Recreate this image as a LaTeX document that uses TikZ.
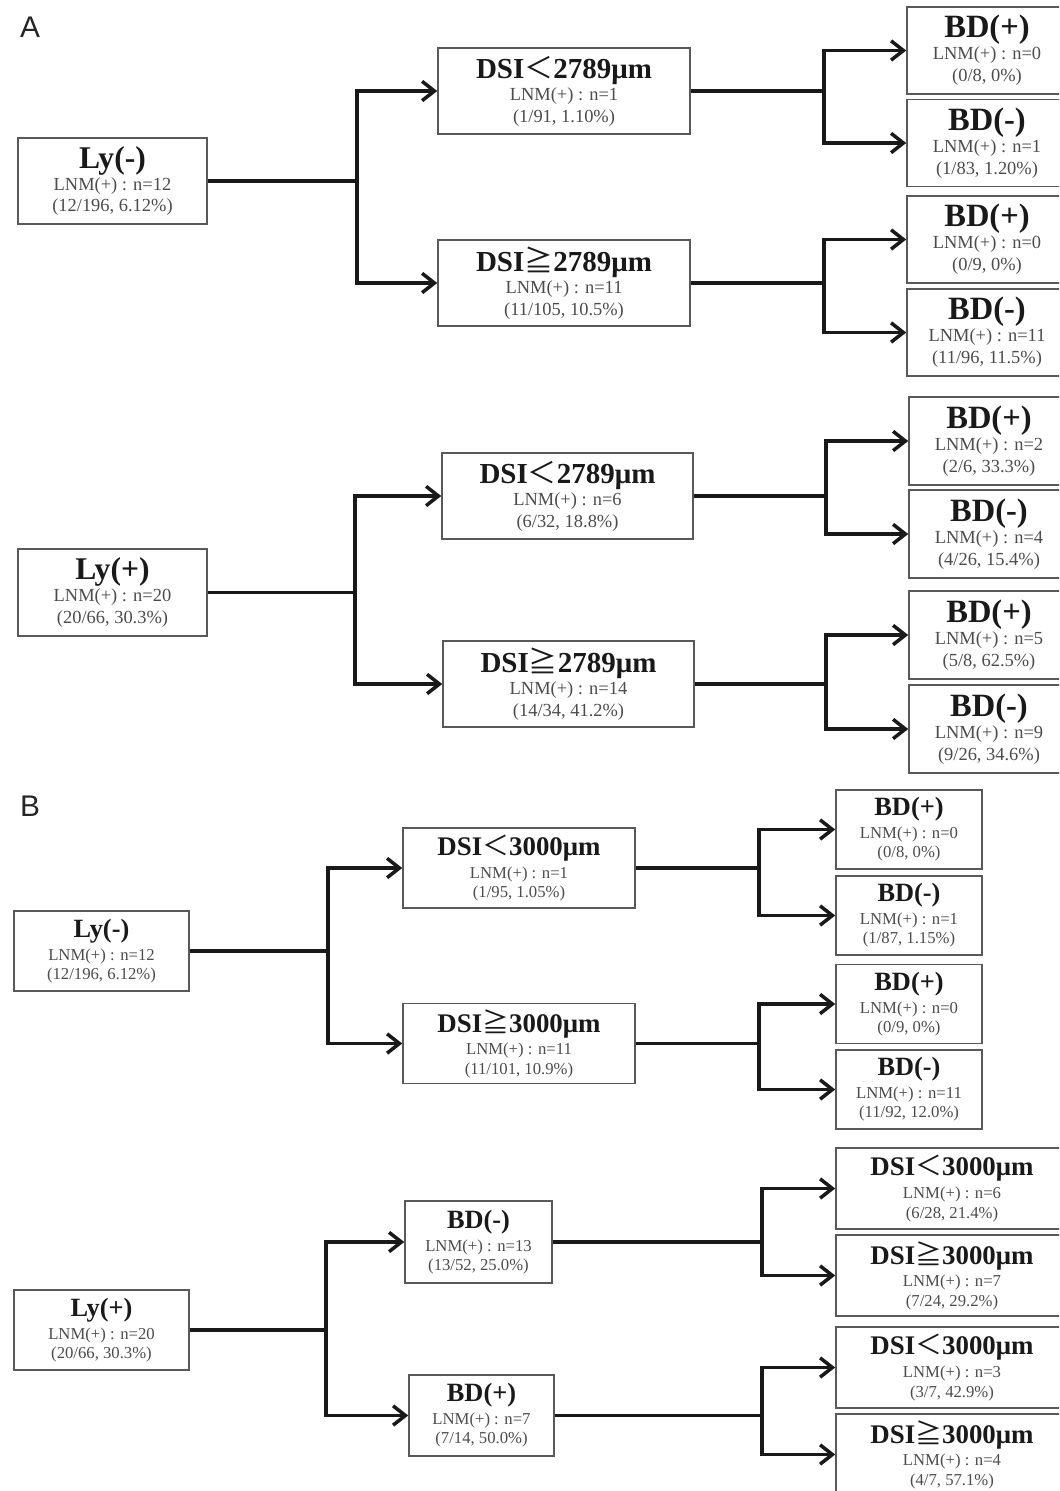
\documentclass[tikz,border=0pt]{standalone}
\usepackage{fontspec}
\setmainfont{Liberation Serif}
\setsansfont{Liberation Sans}
\newfontfamily\cjk{Noto Sans CJK SC}
\usetikzlibrary{arrows.meta}
\definecolor{boxgray}{gray}{0.35}
\definecolor{subgray}{gray}{0.3}
\definecolor{titlegray}{gray}{0.1}
\def\dsilt{{\cjk\mdseries ＜}}
\def\dsige{{\cjk\mdseries ≧}}
\newcommand\ttl[2]{{\fontsize{#1}{#1}\selectfont\bfseries\color{titlegray}#2}}
\tikzset{
	cell/.style={draw=boxgray, line width=0.9pt, fill=white, inner sep=0pt, align=center, text=subgray},
	cellA/.style={cell, font=\fontsize{10.5}{12.5}\selectfont},
	cellB/.style={cell, font=\fontsize{9.5}{11}\selectfont},
	link/.style={line width=2pt, draw=black!90},
	arr/.style={link, -{Straight Barb[length=7pt,width=11pt]}},
	panel/.style={font=\sffamily\fontsize{17}{17}\selectfont, text=black!85},
}

\begin{document}
\begin{tikzpicture}[x=0.02cm, y=-0.02cm]
	%%%%% START %%%%%
	\useasboundingbox (0, 0) rectangle (1059, 1491);
	\clip (0, 0) rectangle (1059, 1491);
	
	%%%%% panel A %%%%%
	\node[panel] (labA) at (30, 27) {A};
	
	\node[cellA, minimum width=3.78cm, minimum height=1.72cm] (lyA1) at (112.5, 181) {\ttl{18}{Ly(-)}\\LNM(+) : n=12\\(12/196, 6.12\%)};
	\node[cellA, minimum width=5.04cm, minimum height=1.72cm] (dsiA1) at (564, 91) {\ttl{16.5}{DSI\dsilt2789μm}\\LNM(+) : n=1\\(1/91, 1.10\%)};
	\node[cellA, minimum width=5.04cm, minimum height=1.72cm] (dsiA2) at (564, 283) {\ttl{16.5}{DSI\dsige2789μm}\\LNM(+) : n=11\\(11/105, 10.5\%)};
	\node[cellA, minimum width=3.2cm, minimum height=1.74cm] (bdA1) at (987, 50.5) {\ttl{18.5}{BD(+)}\\LNM(+) : n=0\\(0/8, 0\%)};
	\node[cellA, minimum width=3.2cm, minimum height=1.74cm] (bdA2) at (987, 143) {\ttl{18.5}{BD(-)}\\LNM(+) : n=1\\(1/83, 1.20\%)};
	\node[cellA, minimum width=3.2cm, minimum height=1.74cm] (bdA3) at (987, 239.5) {\ttl{18.5}{BD(+)}\\LNM(+) : n=0\\(0/9, 0\%)};
	\node[cellA, minimum width=3.2cm, minimum height=1.74cm] (bdA4) at (987, 332.5) {\ttl{18.5}{BD(-)}\\LNM(+) : n=11\\(11/96, 11.5\%)};
	
	\draw[link] (lyA1.east) -- (357, 181) coordinate (jA1);
	\draw[arr] (jA1) |- (dsiA1.west);
	\draw[arr] (jA1) |- (dsiA2.west);
	\draw[link] (dsiA1.east) -- (824, 91) coordinate (jA2);
	\draw[arr] (jA2) |- (bdA1.west);
	\draw[arr] (jA2) |- (bdA2.west);
	\draw[link] (dsiA2.east) -- (824, 283) coordinate (jA3);
	\draw[arr] (jA3) |- (bdA3.west);
	\draw[arr] (jA3) |- (bdA4.west);
	
	\node[cellA, minimum width=3.78cm, minimum height=1.74cm] (lyA2) at (112.5, 592.5) {\ttl{18}{Ly(+)}\\LNM(+) : n=20\\(20/66, 30.3\%)};
	\node[cellA, minimum width=5.02cm, minimum height=1.72cm] (dsiA3) at (567.5, 496) {\ttl{16.5}{DSI\dsilt2789μm}\\LNM(+) : n=6\\(6/32, 18.8\%)};
	\node[cellA, minimum width=5.02cm, minimum height=1.72cm] (dsiA4) at (568.5, 684) {\ttl{16.5}{DSI\dsige2789μm}\\LNM(+) : n=14\\(14/34, 41.2\%)};
	\node[cellA, minimum width=3.2cm, minimum height=1.76cm] (bdA5) at (989, 441) {\ttl{18.5}{BD(+)}\\LNM(+) : n=2\\(2/6, 33.3\%)};
	\node[cellA, minimum width=3.2cm, minimum height=1.76cm] (bdA6) at (989, 534) {\ttl{18.5}{BD(-)}\\LNM(+) : n=4\\(4/26, 15.4\%)};
	\node[cellA, minimum width=3.2cm, minimum height=1.76cm] (bdA7) at (989, 635) {\ttl{18.5}{BD(+)}\\LNM(+) : n=5\\(5/8, 62.5\%)};
	\node[cellA, minimum width=3.2cm, minimum height=1.76cm] (bdA8) at (989, 729) {\ttl{18.5}{BD(-)}\\LNM(+) : n=9\\(9/26, 34.6\%)};
	
	\draw[link] (lyA2.east) -- (355, 592.5) coordinate (jA4);
	\draw[arr] (jA4) |- (dsiA3.west);
	\draw[arr] (jA4) |- (dsiA4.west);
	\draw[link] (dsiA3.east) -- (826, 496) coordinate (jA5);
	\draw[arr] (jA5) |- (bdA5.west);
	\draw[arr] (jA5) |- (bdA6.west);
	\draw[link] (dsiA4.east) -- (826, 684) coordinate (jA6);
	\draw[arr] (jA6) |- (bdA7.west);
	\draw[arr] (jA6) |- (bdA8.west);
	
	%%%%% panel B %%%%%
	\node[panel] (labB) at (30, 806) {B};
	
	\node[cellB, minimum width=3.5cm, minimum height=1.6cm] (lyB1) at (101.5, 951) {\ttl{15}{Ly(-)}\\[2pt]LNM(+) : n=12\\(12/196, 6.12\%)};
	\node[cellB, minimum width=4.64cm, minimum height=1.6cm] (dsiB1) at (519, 868) {\ttl{15.3}{DSI\dsilt3000μm}\\[2pt]LNM(+) : n=1\\(1/95, 1.05\%)};
	\node[cellB, minimum width=4.64cm, minimum height=1.6cm] (dsiB2) at (519, 1043.5) {\ttl{15.3}{DSI\dsige3000μm}\\[2pt]LNM(+) : n=11\\(11/101, 10.9\%)};
	\node[cellB, minimum width=2.92cm, minimum height=1.58cm] (bdB1) at (909, 829.5) {\ttl{15}{BD(+)}\\[2pt]LNM(+) : n=0\\(0/8, 0\%)};
	\node[cellB, minimum width=2.92cm, minimum height=1.58cm] (bdB2) at (909, 915.5) {\ttl{15}{BD(-)}\\[2pt]LNM(+) : n=1\\(1/87, 1.15\%)};
	\node[cellB, minimum width=2.92cm, minimum height=1.58cm] (bdB3) at (909, 1004) {\ttl{15}{BD(+)}\\[2pt]LNM(+) : n=0\\(0/9, 0\%)};
	\node[cellB, minimum width=2.92cm, minimum height=1.58cm] (bdB4) at (909, 1089.5) {\ttl{15}{BD(-)}\\[2pt]LNM(+) : n=11\\(11/92, 12.0\%)};
	
	\draw[link] (lyB1.east) -- (328, 951) coordinate (jB1);
	\draw[arr] (jB1) |- (dsiB1.west);
	\draw[arr] (jB1) |- (dsiB2.west);
	\draw[link] (dsiB1.east) -- (759, 868) coordinate (jB2);
	\draw[arr] (jB2) |- (bdB1.west);
	\draw[arr] (jB2) |- (bdB2.west);
	\draw[link] (dsiB2.east) -- (759, 1043.5) coordinate (jB3);
	\draw[arr] (jB3) |- (bdB3.west);
	\draw[arr] (jB3) |- (bdB4.west);
	
	\node[cellB, minimum width=3.5cm, minimum height=1.6cm] (lyB2) at (101.5, 1330) {\ttl{15}{Ly(+)}\\[2pt]LNM(+) : n=20\\(20/66, 30.3\%)};
	\node[cellB, minimum width=2.94cm, minimum height=1.64cm] (bdB5) at (478.5, 1242) {\ttl{15}{BD(-)}\\[2pt]LNM(+) : n=13\\(13/52, 25.0\%)};
	\node[cellB, minimum width=2.9cm, minimum height=1.62cm] (bdB6) at (481.5, 1415.5) {\ttl{15}{BD(+)}\\[2pt]LNM(+) : n=7\\(7/14, 50.0\%)};
	\node[cellB, minimum width=4.64cm, minimum height=1.62cm] (dsiB3) at (952, 1188.5) {\ttl{15.3}{DSI\dsilt3000μm}\\[2pt]LNM(+) : n=6\\(6/28, 21.4\%)};
	\node[cellB, minimum width=4.64cm, minimum height=1.62cm] (dsiB4) at (952, 1275.5) {\ttl{15.3}{DSI\dsige3000μm}\\[2pt]LNM(+) : n=7\\(7/24, 29.2\%)};
	\node[cellB, minimum width=4.64cm, minimum height=1.62cm] (dsiB5) at (952, 1367.5) {\ttl{15.3}{DSI\dsilt3000μm}\\[2pt]LNM(+) : n=3\\(3/7, 42.9\%)};
	\node[cellB, minimum width=4.64cm, minimum height=1.62cm] (dsiB6) at (952, 1454.5) {\ttl{15.3}{DSI\dsige3000μm}\\[2pt]LNM(+) : n=4\\(4/7, 57.1\%)};
	
	\draw[link] (lyB2.east) -- (326, 1330) coordinate (jB4);
	\draw[arr] (jB4) |- (bdB5.west);
	\draw[arr] (jB4) |- (bdB6.west);
	\draw[link] (bdB5.east) -- (762, 1242) coordinate (jB5);
	\draw[arr] (jB5) |- (dsiB3.west);
	\draw[arr] (jB5) |- (dsiB4.west);
	\draw[link] (bdB6.east) -- (762, 1415.5) coordinate (jB6);
	\draw[arr] (jB6) |- (dsiB5.west);
	\draw[arr] (jB6) |- (dsiB6.west);
	%%%%% END %%%%%
\end{tikzpicture}
\end{document}
